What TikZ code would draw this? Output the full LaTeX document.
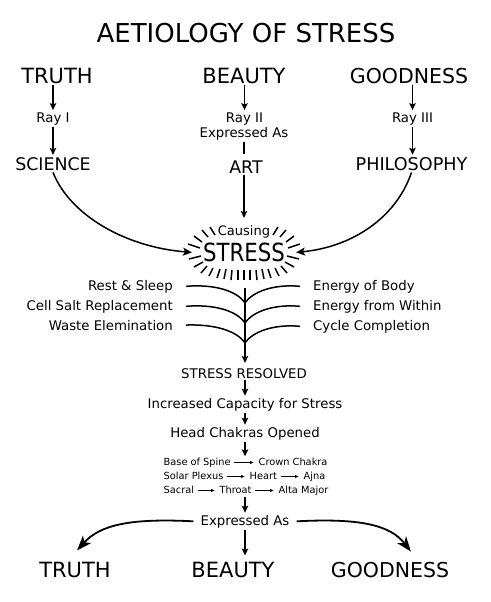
\documentclass[tikz,border=0pt]{standalone}
\usepackage{fontspec}
\setmainfont{DejaVu Sans}
\newfontfamily\condfont[FakeStretch=0.85]{DejaVu Sans}
\usetikzlibrary{arrows.meta,calc}
\begin{document}
\begin{tikzpicture}[x=1pt,y=-1pt,
  lbl/.style={anchor=base,inner sep=2pt},
  ftitle/.style={font=\fontsize{26}{30}\selectfont},
  fbig/.style={font=\fontsize{21}{24}\selectfont},
  fmid/.style={font=\fontsize{17.4}{20}\selectfont},
  fsmall/.style={font=\fontsize{13.3}{15}\selectfont},
  ln/.style={line width=1.5pt},
  arr/.style={line width=1.5pt,-{Stealth[length=7pt,width=6.5pt,inset=1.5pt]}},
  carr/.style={line width=1.5pt,-{Stealth[length=9pt,width=8pt,inset=2pt]}},
  barr/.style={line width=1.8pt,-{Stealth[length=15pt,width=11pt,inset=4pt]}},
  sarr/.style={line width=0.9pt,-{Latex[length=4pt,width=3.5pt]},shorten <=2pt,shorten >=3pt},
  ray/.style={line width=1.5pt},
  chak/.style={anchor=base west,inner sep=1.5pt,font=\fontsize{9.8}{11}\selectfont,text height=7pt,text depth=2pt},
]
\useasboundingbox (0,0) rectangle (490,602);

% title
\node[lbl,ftitle] (title) at (246,43) {AETIOLOGY OF STRESS};

% top row
\node[lbl,fbig] (truthA) at (57,83) {TRUTH};
\node[lbl,fbig] (beautyA) at (244,83) {BEAUTY};
\node[lbl,font=\fontsize{20.5}{24}\selectfont] (goodA) at (409,83) {GOODNESS};

\node[lbl,fsmall] (rayA) at (53,122) {Ray I};
\node[lbl,fsmall] (rayB) at (244.5,122) {Ray II};
\node[lbl,fsmall] (rayC) at (412.5,122) {Ray III};
\node[lbl,fsmall] (exprA) at (244,137) {Expressed As};

\node[lbl,fmid] (science) at (53,170) {SCIENCE};
\node[lbl,fmid] (art) at (246,173) {ART};
\node[lbl,font=\fontsize{17.6}{20}\selectfont] (philo) at (411.5,170) {PHILOSOPHY};

% stress
\node[lbl,font=\fontsize{13}{15}\selectfont] (causing) at (244,235) {Causing};
\node[lbl,font=\condfont\fontsize{25}{28}\selectfont] (stress) at (244,261.5) {STRESS};

% branch labels
\node[anchor=base east,inner sep=2pt,fsmall] (rest) at (175,290) {Rest \& Sleep};
\node[anchor=base east,inner sep=2pt,fsmall] (cell) at (175,310) {Cell Salt Replacement};
\node[anchor=base east,inner sep=2pt,fsmall] (waste) at (175,330) {Waste Elemination};
\node[anchor=base west,inner sep=2pt,fsmall] (body) at (311,290) {Energy of Body};
\node[anchor=base west,inner sep=2pt,fsmall] (within) at (311,310) {Energy from Within};
\node[anchor=base west,inner sep=2pt,fsmall] (cycle) at (311,330) {Cycle Completion};

\coordinate (jt) at (245,288);
\coordinate (j1) at (245,303);
\coordinate (j2) at (245,323);
\coordinate (j3) at (245,343);

% lower column
\node[lbl,fsmall] (resolved) at (244,378) {STRESS RESOLVED};
\node[lbl,fsmall] (increased) at (245,408) {Increased Capacity for Stress};
\node[lbl,fsmall] (head) at (245,437) {Head Chakras Opened};

\node[chak] (spine) at (162,465) {Base of Spine};
\node[chak] (crown) at (257,465) {Crown Chakra};
\node[chak] (solar) at (162,479) {Solar Plexus};
\node[chak] (heart) at (248,479) {Heart};
\node[chak] (ajna) at (302,479) {Ajna};
\node[chak] (sacral) at (162,493) {Sacral};
\node[chak] (throat) at (218,493) {Throat};
\node[chak] (alta) at (277,493) {Alta Major};

\node[lbl,fsmall] (exprB) at (245,525) {Expressed As};
\node[lbl,fbig] (truthB) at (75,577) {TRUTH};
\node[lbl,fbig] (beautyB) at (233,577) {BEAUTY};
\node[lbl,font=\fontsize{20.5}{24}\selectfont] (goodB) at (390,577) {GOODNESS};

% top connectors
\draw[arr] (truthA.south -| rayA) -- (rayA.north);
\draw[arr] (rayA.south) -- (science.north);
\draw[arr] (beautyA.south -| rayB) -- (rayB.north);
\draw[ln,shorten >=4pt] (exprA.south) -- (exprA.south |- art.north);
\draw[arr] (goodA.south -| rayC) -- (rayC.north);
\draw[arr] (rayC.south) -- (rayC.south |- philo.north);
\draw[arr,shorten >=5pt] (art.south -| causing) -- (causing.north);

\draw[carr] (science.south) .. controls (70,215) and (125,247) .. ([xshift=-9pt]stress.west);
\draw[carr] (philo.south) .. controls (396,218) and (352,247) .. ([xshift=9pt]stress.east);

% rays round STRESS
\foreach \xa/\ya/\xb/\yb in {215/235/210/227, 208/237/202/230, 202/242/194/236,
  200/248/188/244, 201/256/189/259, 203/262/194/267, 207/266/201/273,
  213/268/209/276, 220/269/217/278, 226/269/224/279, 232/270/231/280, 238/270/238/280}{
  \draw[ray] (\xa,\ya) -- (\xb,\yb);
  \draw[ray] ({488-\xa},\ya) -- ({488-\xb},\yb);
}
\draw[ray] (244,270) -- (244,280);

% branches
\draw[ln] ([xshift=11pt]rest.east) .. controls (215,284) and (237,291) .. (j1);
\draw[ln] ([xshift=11pt]cell.east) .. controls (215,304) and (237,311) .. (j2);
\draw[ln] ([xshift=11pt]waste.east) .. controls (215,324) and (237,331) .. (j3);
\draw[ln] ([xshift=-11pt]body.west) .. controls (275,284) and (253,291) .. (j1);
\draw[ln] ([xshift=-11pt]within.west) .. controls (275,304) and (253,311) .. (j2);
\draw[ln] ([xshift=-11pt]cycle.west) .. controls (275,324) and (253,331) .. (j3);
\draw[arr,shorten >=3pt] (jt) -- (jt |- resolved.north);

% lower connectors
\draw[arr] (resolved.south -| increased) -- (increased.north);
\draw[arr] (increased.south -| head) -- (head.north);
\draw[arr] (head.south) -- (head.south |- spine.north);
\draw[sarr] (spine.east) -- (spine.east -| crown.west);
\draw[sarr] (solar.east) -- (solar.east -| heart.west);
\draw[sarr] (heart.east) -- (heart.east -| ajna.west);
\draw[sarr] (sacral.east) -- (sacral.east -| throat.west);
\draw[sarr] (throat.east) -- (throat.east -| alta.west);
\draw[arr] (exprB.north |- sacral.south) -- (exprB.north);
\draw[arr,shorten >=4pt] (exprB.south) -- (exprB.south |- beautyB.north);
\draw[barr] ([xshift=-5pt]exprB.west) .. controls (130,518) and (100,525) .. ($(truthB.north)+(2,-9)$);
\draw[barr] ([xshift=5pt]exprB.east) .. controls (360,518) and (390,525) .. ($(goodB.north)+(21,-8)$);
\end{tikzpicture}
\end{document}
